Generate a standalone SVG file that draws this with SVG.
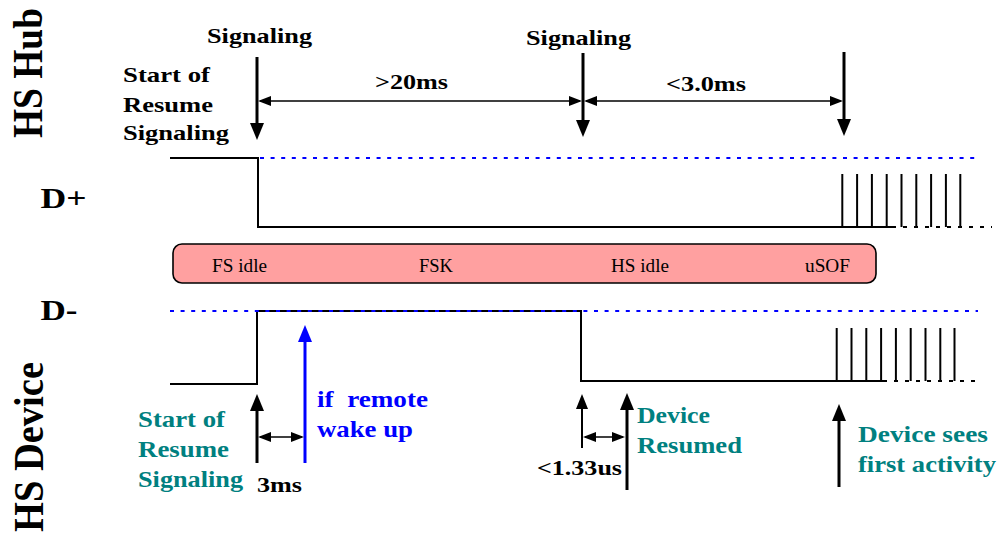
<svg xmlns="http://www.w3.org/2000/svg" width="1004" height="536" viewBox="0 0 1004 536">
<style>
text{font-family:"Liberation Serif","Times New Roman",serif;white-space:pre;}
.b{font-weight:bold;font-size:22px;fill:#000;}
.big{font-weight:bold;font-size:36px;fill:#000;}
.lvl{font-weight:bold;font-size:29px;fill:#000;}
.reg{font-size:19px;fill:#000;}
.teal{font-weight:bold;font-size:23px;fill:#008080;}
.blue{font-weight:bold;font-size:23px;fill:#0000FF;}
.wave{fill:none;stroke:#000;stroke-width:2;}
.pulse{stroke:#000;stroke-width:2;}
.tail{stroke:#000;stroke-width:2;stroke-dasharray:4 7;}
.dot{stroke:#0000FF;stroke-width:2;stroke-dasharray:4 6.6;}
.thick{stroke:#000;stroke-width:3;marker-end:url(#hb);}
.thin{stroke:#000;stroke-width:2;marker-end:url(#hm);}
.bthick{stroke:#0000FF;stroke-width:3;marker-end:url(#hblue);}
.dim{stroke:#000;stroke-width:1.6;marker-start:url(#hs);marker-end:url(#hs);}
</style>
<defs>
<marker id="hb" markerUnits="userSpaceOnUse" viewBox="0 0 17 14" markerWidth="17" markerHeight="14" refX="11" refY="7" orient="auto"><path d="M0,0 L17,7 L0,14 z" fill="#000"/></marker>
<marker id="hblue" markerUnits="userSpaceOnUse" viewBox="0 0 17 14" markerWidth="17" markerHeight="14" refX="11" refY="7" orient="auto"><path d="M0,0 L17,7 L0,14 z" fill="#0000FF"/></marker>
<marker id="hm" markerUnits="userSpaceOnUse" viewBox="0 0 15 12" markerWidth="15" markerHeight="12" refX="10" refY="6" orient="auto"><path d="M0,0 L15,6 L0,12 z" fill="#000"/></marker>
<marker id="hs" markerUnits="userSpaceOnUse" viewBox="0 0 13 10" markerWidth="13" markerHeight="10" refX="11" refY="5" orient="auto-start-reverse"><path d="M0,0 L13,5 L0,10 z" fill="#000"/></marker>
</defs>

<g id="side-labels">
<text class="big" transform="translate(42,138) scale(1.2,1) rotate(-90)" textLength="130" lengthAdjust="spacingAndGlyphs">HS Hub</text>
<text class="big" transform="translate(42.5,532) scale(1.2,1) rotate(-90)" textLength="170" lengthAdjust="spacingAndGlyphs">HS Device</text>
<text class="lvl" x="40.5" y="207.5" textLength="46" lengthAdjust="spacingAndGlyphs">D+</text>
<text class="lvl" x="40.5" y="319.5" textLength="37" lengthAdjust="spacingAndGlyphs">D-</text>
</g>

<g id="hub-labels">
<text class="b" x="207" y="43" textLength="105" lengthAdjust="spacingAndGlyphs">Signaling</text>
<text class="b" x="526" y="45" textLength="105" lengthAdjust="spacingAndGlyphs">Signaling</text>
<text class="b" x="123" y="82" textLength="87" lengthAdjust="spacingAndGlyphs">Start of</text>
<text class="b" x="123" y="111.5" textLength="90" lengthAdjust="spacingAndGlyphs">Resume</text>
<text class="b" x="123" y="140" textLength="106" lengthAdjust="spacingAndGlyphs">Signaling</text>
<text class="b" x="375" y="89" textLength="73" lengthAdjust="spacingAndGlyphs">&gt;20ms</text>
<text class="b" x="666" y="90.5" textLength="80" lengthAdjust="spacingAndGlyphs">&lt;3.0ms</text>
</g>

<g id="dplus">
<polyline class="wave" points="170,158 258,158 258,227 892,227"/>
<line class="dot" x1="260" y1="158" x2="978" y2="158"/>
<line class="tail" x1="892" y1="227" x2="992" y2="227"/>
<g class="pulse">
<line x1="842.3" y1="174" x2="842.3" y2="227"/>
<line x1="857.1" y1="174" x2="857.1" y2="227"/>
<line x1="871.9" y1="174" x2="871.9" y2="227"/>
<line x1="886.7" y1="174" x2="886.7" y2="227"/>
<line x1="901.5" y1="174" x2="901.5" y2="227"/>
<line x1="916.3" y1="174" x2="916.3" y2="227"/>
<line x1="931.1" y1="174" x2="931.1" y2="227"/>
<line x1="945.9" y1="174" x2="945.9" y2="227"/>
<line x1="960.3" y1="174" x2="960.3" y2="227"/>
</g>
</g>

<g id="state-bar">
<rect x="173" y="244" width="703" height="39" rx="9" ry="9" fill="#FFA0A0" stroke="#000" stroke-width="1.6"/>
<text class="reg" x="212" y="272" textLength="55" lengthAdjust="spacingAndGlyphs">FS idle</text>
<text class="reg" x="419" y="272" textLength="34" lengthAdjust="spacingAndGlyphs">FSK</text>
<text class="reg" x="611" y="272" textLength="58" lengthAdjust="spacingAndGlyphs">HS idle</text>
<text class="reg" x="805" y="272" textLength="45" lengthAdjust="spacingAndGlyphs">uSOF</text>
</g>

<g id="dminus">
<polyline class="wave" points="170,384 257,384 257,311 581,311 581,381 883,381"/>
<line class="dot" x1="170" y1="311" x2="978" y2="311"/>
<line class="tail" x1="883" y1="381" x2="976" y2="381"/>
<g class="pulse">
<line x1="836.7" y1="328" x2="836.7" y2="381"/>
<line x1="851.5" y1="328" x2="851.5" y2="381"/>
<line x1="866.3" y1="328" x2="866.3" y2="381"/>
<line x1="881.1" y1="328" x2="881.1" y2="381"/>
<line x1="895.9" y1="328" x2="895.9" y2="381"/>
<line x1="910.7" y1="328" x2="910.7" y2="381"/>
<line x1="925.5" y1="328" x2="925.5" y2="381"/>
<line x1="940.3" y1="328" x2="940.3" y2="381"/>
<line x1="954.5" y1="328" x2="954.5" y2="381"/>
</g>
</g>

<g id="device-labels">
<text class="teal" x="138" y="426.5" textLength="87" lengthAdjust="spacingAndGlyphs">Start of</text>
<text class="teal" x="138" y="456.5" textLength="91" lengthAdjust="spacingAndGlyphs">Resume</text>
<text class="teal" x="138" y="486.5" textLength="105" lengthAdjust="spacingAndGlyphs">Signaling</text>
<text class="b" x="257" y="491.5" textLength="45" lengthAdjust="spacingAndGlyphs">3ms</text>
<text class="blue" x="317" y="407" textLength="111" lengthAdjust="spacingAndGlyphs">if  remote</text>
<text class="blue" x="317" y="437" textLength="96" lengthAdjust="spacingAndGlyphs">wake up</text>
<text class="b" x="537" y="475" textLength="85" lengthAdjust="spacingAndGlyphs">&lt;1.33us</text>
<text class="teal" x="637" y="423" textLength="73" lengthAdjust="spacingAndGlyphs">Device</text>
<text class="teal" x="637" y="453" textLength="105" lengthAdjust="spacingAndGlyphs">Resumed</text>
<text class="teal" x="858" y="441.5" textLength="130" lengthAdjust="spacingAndGlyphs">Device sees</text>
<text class="teal" x="858" y="471.5" textLength="138" lengthAdjust="spacingAndGlyphs">first activity</text>
</g>

<g id="connectors">
<line class="thick" x1="257" y1="57" x2="257" y2="134"/>
<line class="thick" x1="583" y1="53" x2="583" y2="131"/>
<line class="thick" x1="844" y1="52" x2="844" y2="130"/>
<line class="dim" x1="260" y1="101" x2="580" y2="101"/>
<line class="dim" x1="586" y1="101" x2="841" y2="101"/>
<line class="thick" x1="257" y1="463" x2="257" y2="400"/>
<line class="bthick" x1="305" y1="463" x2="305" y2="331"/>
<line class="dim" x1="260" y1="437" x2="302" y2="437"/>
<line class="thin" x1="582" y1="448" x2="582" y2="399"/>
<line class="dim" x1="585" y1="437" x2="623" y2="437"/>
<line class="thick" x1="627" y1="490" x2="627" y2="399"/>
<line class="thick" x1="839" y1="487" x2="839" y2="410"/>
</g>
</svg>
